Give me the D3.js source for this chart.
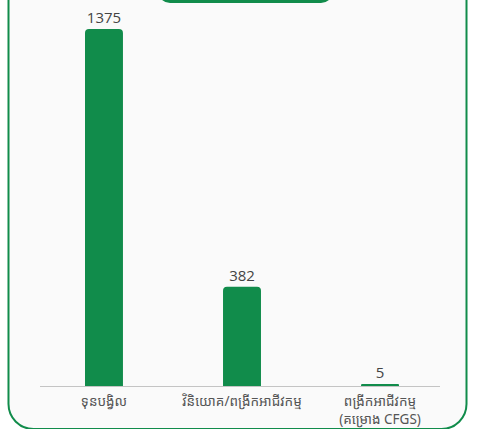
<!DOCTYPE html>
<html>
<head>
<meta charset="utf-8">
<script src="https://cdn.jsdelivr.net/npm/d3@7"></script>
<style>
  html, body { margin: 0; padding: 0; background: #fff; }
  svg { display: block; }
</style>
</head>
<body>
<div id="chart"></div>
<script>
// data
const categories = ['ទុនបង្វិល', 'វិនិយោគ/ពង្រីកអាជីវកម្ម', 'ពង្រីកអាជីវកម្ម\n(គម្រោង CFGS)'];
const values = [1375, 382, 5];

const width = 478, height = 429;
const green = '#118c4b';
const khmerFont = '"Noto Sans Khmer", "Khmer OS", "Noto Sans", "Open Sans", sans-serif';

const svg = d3.select('#chart').append('svg')
  .attr('width', width)
  .attr('height', height);

// card frame
svg.append('rect')
  .attr('x', 8.5).attr('y', -30)
  .attr('width', 458).attr('height', 459)
  .attr('rx', 25)
  .attr('fill', '#fafafa')
  .attr('stroke', green)
  .attr('stroke-width', 2);

// title tab (cut off at top)
svg.append('rect')
  .attr('x', 158).attr('y', -30)
  .attr('width', 175).attr('height', 33)
  .attr('rx', 12)
  .attr('fill', green);

const x = d3.scaleBand()
  .domain(categories)
  .range([35, 449])
  .paddingInner(0.725)
  .paddingOuter(0.3623);

const baseY = 386;
const y = d3.scaleLinear()
  .domain([0, d3.max(values)])
  .range([baseY, 29]);

// baseline
svg.append('line')
  .attr('x1', 40).attr('x2', 440)
  .attr('y1', baseY + 0.5).attr('y2', baseY + 0.5)
  .attr('stroke', '#c4c4c4')
  .attr('stroke-width', 1);

function barPath(x0, w, top, bottom) {
  const r = Math.min(4, (bottom - top) / 2, w / 2);
  return `M${x0},${bottom}V${top + r}Q${x0},${top} ${x0 + r},${top}` +
    `H${x0 + w - r}Q${x0 + w},${top} ${x0 + w},${top + r}V${bottom}Z`;
}

const data = categories.map((c, i) => ({ c, v: values[i] }));

svg.selectAll('path.bar').data(data).join('path')
  .attr('class', 'bar')
  .attr('fill', green)
  .attr('d', d => {
    let top = y(d.v);
    if (baseY - top < 2) top = baseY - 2;
    return barPath(x(d.c), x.bandwidth(), top, baseY);
  });

// value labels
svg.selectAll('text.val').data(data).join('text')
  .attr('class', 'val')
  .attr('x', d => x(d.c) + x.bandwidth() / 2)
  .attr('y', d => Math.min(y(d.v), baseY - 2) - 6)
  .attr('text-anchor', 'middle')
  .attr('font-family', '"Open Sans", "Noto Sans", sans-serif')
  .attr('font-size', 15)
  .attr('fill', '#444')
  .text(d => d.v);

// category labels
const lbl = svg.selectAll('text.cat').data(data).join('text')
  .attr('class', 'cat')
  .attr('x', d => x(d.c) + x.bandwidth() / 2)
  .attr('y', baseY + 20)
  .attr('text-anchor', 'middle')
  .attr('font-family', khmerFont)
  .attr('font-size', 13.5)
  .attr('fill', '#555');

lbl.selectAll('tspan').data(d => d.c.split('\n')).join('tspan')
  .attr('x', function () { return d3.select(this.parentNode).attr('x'); })
  .attr('dy', (d, i) => i === 0 ? 0 : 18)
  .text(d => d);
</script>
</body>
</html>
